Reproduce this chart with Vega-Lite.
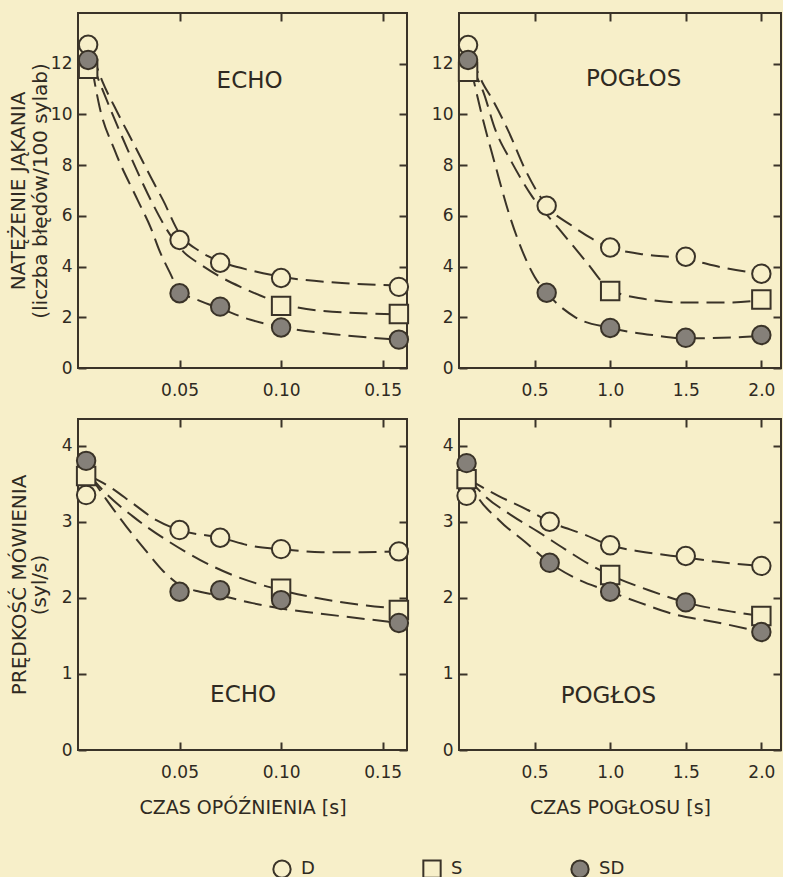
{
  "$schema": "https://vega.github.io/schema/vega-lite/v6.json",
  "background": "#f7efc9",
  "padding": {"left": 7, "top": 11, "right": 0, "bottom": 0},
  "config": {
    "font": "DejaVu Sans",
    "view": {"stroke": "#3a3328", "strokeWidth": 2},
    "axis": {
      "domain": false, "grid": false,
      "tickColor": "#3a3328", "tickWidth": 2, "tickSize": -8,
      "labelFont": "DejaVu Sans", "labelFontSize": 17, "labelColor": "#2f2a22", "labelPadding": 14,
      "titleFont": "DejaVu Sans", "titleFontSize": 20, "titleColor": "#2f2a22", "titleFontWeight": "normal"
    },
    "legend": {
      "orient": "none", "legendX": 194, "legendY": 846, "direction": "horizontal",
      "columnPadding": 104, "labelFontSize": 18, "labelColor": "#2f2a22", "labelFont": "DejaVu Sans",
      "symbolSize": 300, "symbolStrokeWidth": 2, "labelOffset": 9
    }
  },
  "datasets": {
    "pts": [
      {"panel": "TL", "series": "D", "x": 0.005, "y": 12.75},
      {"panel": "TL", "series": "D", "x": 0.05, "y": 5.05},
      {"panel": "TL", "series": "D", "x": 0.07, "y": 4.15},
      {"panel": "TL", "series": "D", "x": 0.10, "y": 3.55},
      {"panel": "TL", "series": "D", "x": 0.158, "y": 3.2},
      {"panel": "TL", "series": "S", "x": 0.005, "y": 11.8},
      {"panel": "TL", "series": "S", "x": 0.10, "y": 2.45},
      {"panel": "TL", "series": "S", "x": 0.158, "y": 2.13},
      {"panel": "TL", "series": "SD", "x": 0.005, "y": 12.15},
      {"panel": "TL", "series": "SD", "x": 0.05, "y": 2.95},
      {"panel": "TL", "series": "SD", "x": 0.07, "y": 2.42},
      {"panel": "TL", "series": "SD", "x": 0.10, "y": 1.6},
      {"panel": "TL", "series": "SD", "x": 0.158, "y": 1.12},
      {"panel": "TR", "series": "D", "x": 0.06, "y": 12.74},
      {"panel": "TR", "series": "D", "x": 0.58, "y": 6.4},
      {"panel": "TR", "series": "D", "x": 1.0, "y": 4.75},
      {"panel": "TR", "series": "D", "x": 1.5, "y": 4.39},
      {"panel": "TR", "series": "D", "x": 2.0, "y": 3.72},
      {"panel": "TR", "series": "S", "x": 0.06, "y": 11.68},
      {"panel": "TR", "series": "S", "x": 1.0, "y": 3.04},
      {"panel": "TR", "series": "S", "x": 2.0, "y": 2.7},
      {"panel": "TR", "series": "SD", "x": 0.06, "y": 12.15},
      {"panel": "TR", "series": "SD", "x": 0.58, "y": 2.97},
      {"panel": "TR", "series": "SD", "x": 1.0, "y": 1.58},
      {"panel": "TR", "series": "SD", "x": 1.5, "y": 1.19},
      {"panel": "TR", "series": "SD", "x": 2.0, "y": 1.3},
      {"panel": "BL", "series": "D", "x": 0.004, "y": 3.35},
      {"panel": "BL", "series": "D", "x": 0.05, "y": 2.89},
      {"panel": "BL", "series": "D", "x": 0.07, "y": 2.79},
      {"panel": "BL", "series": "D", "x": 0.10, "y": 2.64},
      {"panel": "BL", "series": "D", "x": 0.158, "y": 2.61},
      {"panel": "BL", "series": "S", "x": 0.004, "y": 3.6},
      {"panel": "BL", "series": "S", "x": 0.10, "y": 2.12},
      {"panel": "BL", "series": "S", "x": 0.158, "y": 1.84},
      {"panel": "BL", "series": "SD", "x": 0.004, "y": 3.8},
      {"panel": "BL", "series": "SD", "x": 0.05, "y": 2.08},
      {"panel": "BL", "series": "SD", "x": 0.07, "y": 2.1},
      {"panel": "BL", "series": "SD", "x": 0.10, "y": 1.97},
      {"panel": "BL", "series": "SD", "x": 0.158, "y": 1.67},
      {"panel": "BR", "series": "D", "x": 0.05, "y": 3.34},
      {"panel": "BR", "series": "D", "x": 0.6, "y": 3.0},
      {"panel": "BR", "series": "D", "x": 1.0, "y": 2.69},
      {"panel": "BR", "series": "D", "x": 1.5, "y": 2.55},
      {"panel": "BR", "series": "D", "x": 2.0, "y": 2.42},
      {"panel": "BR", "series": "S", "x": 0.05, "y": 3.56},
      {"panel": "BR", "series": "S", "x": 1.0, "y": 2.3},
      {"panel": "BR", "series": "S", "x": 2.0, "y": 1.76},
      {"panel": "BR", "series": "SD", "x": 0.05, "y": 3.77},
      {"panel": "BR", "series": "SD", "x": 0.6, "y": 2.46},
      {"panel": "BR", "series": "SD", "x": 1.0, "y": 2.08},
      {"panel": "BR", "series": "SD", "x": 1.5, "y": 1.94},
      {"panel": "BR", "series": "SD", "x": 2.0, "y": 1.55}
    ],
    "curves": [
      {"panel": "TL", "series": "D", "x": 0.007, "y": 12.4},
      {"panel": "TL", "series": "D", "x": 0.012, "y": 11.3},
      {"panel": "TL", "series": "D", "x": 0.018, "y": 10.3},
      {"panel": "TL", "series": "D", "x": 0.029, "y": 8.6},
      {"panel": "TL", "series": "D", "x": 0.036, "y": 7.5},
      {"panel": "TL", "series": "D", "x": 0.042, "y": 6.6},
      {"panel": "TL", "series": "D", "x": 0.05, "y": 5.3},
      {"panel": "TL", "series": "D", "x": 0.06, "y": 4.6},
      {"panel": "TL", "series": "D", "x": 0.07, "y": 4.2},
      {"panel": "TL", "series": "D", "x": 0.085, "y": 3.85},
      {"panel": "TL", "series": "D", "x": 0.10, "y": 3.6},
      {"panel": "TL", "series": "D", "x": 0.13, "y": 3.35},
      {"panel": "TL", "series": "D", "x": 0.158, "y": 3.25},
      {"panel": "TL", "series": "S", "x": 0.007, "y": 12.0},
      {"panel": "TL", "series": "S", "x": 0.0155, "y": 10.3},
      {"panel": "TL", "series": "S", "x": 0.0245, "y": 8.6},
      {"panel": "TL", "series": "S", "x": 0.036, "y": 6.6},
      {"panel": "TL", "series": "S", "x": 0.045, "y": 5.3},
      {"panel": "TL", "series": "S", "x": 0.053, "y": 4.5},
      {"panel": "TL", "series": "S", "x": 0.06, "y": 4.1},
      {"panel": "TL", "series": "S", "x": 0.07, "y": 3.6},
      {"panel": "TL", "series": "S", "x": 0.08, "y": 3.2},
      {"panel": "TL", "series": "S", "x": 0.09, "y": 2.85},
      {"panel": "TL", "series": "S", "x": 0.10, "y": 2.55},
      {"panel": "TL", "series": "S", "x": 0.12, "y": 2.25},
      {"panel": "TL", "series": "S", "x": 0.158, "y": 2.12},
      {"panel": "TL", "series": "SD", "x": 0.007, "y": 11.8},
      {"panel": "TL", "series": "SD", "x": 0.0106, "y": 10.3},
      {"panel": "TL", "series": "SD", "x": 0.018, "y": 8.6},
      {"panel": "TL", "series": "SD", "x": 0.0295, "y": 6.6},
      {"panel": "TL", "series": "SD", "x": 0.036, "y": 5.5},
      {"panel": "TL", "series": "SD", "x": 0.04, "y": 4.65},
      {"panel": "TL", "series": "SD", "x": 0.045, "y": 3.8},
      {"panel": "TL", "series": "SD", "x": 0.05, "y": 3.05},
      {"panel": "TL", "series": "SD", "x": 0.06, "y": 2.65},
      {"panel": "TL", "series": "SD", "x": 0.07, "y": 2.35},
      {"panel": "TL", "series": "SD", "x": 0.085, "y": 1.9},
      {"panel": "TL", "series": "SD", "x": 0.10, "y": 1.62},
      {"panel": "TL", "series": "SD", "x": 0.13, "y": 1.3},
      {"panel": "TL", "series": "SD", "x": 0.158, "y": 1.12},
      {"panel": "TR", "series": "D", "x": 0.08, "y": 12.3},
      {"panel": "TR", "series": "D", "x": 0.16, "y": 11.2},
      {"panel": "TR", "series": "D", "x": 0.22, "y": 10.6},
      {"panel": "TR", "series": "D", "x": 0.33, "y": 9.3},
      {"panel": "TR", "series": "D", "x": 0.44, "y": 7.8},
      {"panel": "TR", "series": "D", "x": 0.58, "y": 6.4},
      {"panel": "TR", "series": "D", "x": 0.75, "y": 5.6},
      {"panel": "TR", "series": "D", "x": 0.88, "y": 5.1},
      {"panel": "TR", "series": "D", "x": 1.0, "y": 4.75},
      {"panel": "TR", "series": "D", "x": 1.2, "y": 4.5},
      {"panel": "TR", "series": "D", "x": 1.5, "y": 4.3},
      {"panel": "TR", "series": "D", "x": 1.75, "y": 3.95},
      {"panel": "TR", "series": "D", "x": 2.0, "y": 3.72},
      {"panel": "TR", "series": "S", "x": 0.08, "y": 11.9},
      {"panel": "TR", "series": "S", "x": 0.16, "y": 10.9},
      {"panel": "TR", "series": "S", "x": 0.24, "y": 9.4},
      {"panel": "TR", "series": "S", "x": 0.35, "y": 8.1},
      {"panel": "TR", "series": "S", "x": 0.48, "y": 6.8},
      {"panel": "TR", "series": "S", "x": 0.66, "y": 5.5},
      {"panel": "TR", "series": "S", "x": 0.84, "y": 4.2},
      {"panel": "TR", "series": "S", "x": 1.0, "y": 3.1},
      {"panel": "TR", "series": "S", "x": 1.2, "y": 2.75},
      {"panel": "TR", "series": "S", "x": 1.5, "y": 2.58},
      {"panel": "TR", "series": "S", "x": 1.8, "y": 2.58},
      {"panel": "TR", "series": "S", "x": 2.0, "y": 2.68},
      {"panel": "TR", "series": "SD", "x": 0.08, "y": 11.8},
      {"panel": "TR", "series": "SD", "x": 0.15, "y": 10.0},
      {"panel": "TR", "series": "SD", "x": 0.24, "y": 8.0},
      {"panel": "TR", "series": "SD", "x": 0.33, "y": 6.1},
      {"panel": "TR", "series": "SD", "x": 0.42, "y": 4.6},
      {"panel": "TR", "series": "SD", "x": 0.5, "y": 3.6},
      {"panel": "TR", "series": "SD", "x": 0.58, "y": 2.97},
      {"panel": "TR", "series": "SD", "x": 0.77, "y": 2.0},
      {"panel": "TR", "series": "SD", "x": 1.0, "y": 1.58},
      {"panel": "TR", "series": "SD", "x": 1.28, "y": 1.3},
      {"panel": "TR", "series": "SD", "x": 1.5, "y": 1.17},
      {"panel": "TR", "series": "SD", "x": 1.8, "y": 1.2},
      {"panel": "TR", "series": "SD", "x": 2.0, "y": 1.28},
      {"panel": "BL", "series": "D", "x": 0.006, "y": 3.6},
      {"panel": "BL", "series": "D", "x": 0.0155, "y": 3.46},
      {"panel": "BL", "series": "D", "x": 0.027, "y": 3.24},
      {"panel": "BL", "series": "D", "x": 0.0386, "y": 3.02},
      {"panel": "BL", "series": "D", "x": 0.05, "y": 2.89},
      {"panel": "BL", "series": "D", "x": 0.07, "y": 2.79},
      {"panel": "BL", "series": "D", "x": 0.086, "y": 2.68},
      {"panel": "BL", "series": "D", "x": 0.10, "y": 2.64},
      {"panel": "BL", "series": "D", "x": 0.12, "y": 2.6},
      {"panel": "BL", "series": "D", "x": 0.14, "y": 2.6},
      {"panel": "BL", "series": "D", "x": 0.158, "y": 2.61},
      {"panel": "BL", "series": "S", "x": 0.006, "y": 3.6},
      {"panel": "BL", "series": "S", "x": 0.012, "y": 3.42},
      {"panel": "BL", "series": "S", "x": 0.027, "y": 3.07},
      {"panel": "BL", "series": "S", "x": 0.0435, "y": 2.76},
      {"panel": "BL", "series": "S", "x": 0.06, "y": 2.5},
      {"panel": "BL", "series": "S", "x": 0.076, "y": 2.3},
      {"panel": "BL", "series": "S", "x": 0.10, "y": 2.1},
      {"panel": "BL", "series": "S", "x": 0.117, "y": 2.0},
      {"panel": "BL", "series": "S", "x": 0.142, "y": 1.9},
      {"panel": "BL", "series": "S", "x": 0.158, "y": 1.86},
      {"panel": "BL", "series": "SD", "x": 0.006, "y": 3.6},
      {"panel": "BL", "series": "SD", "x": 0.014, "y": 3.29},
      {"panel": "BL", "series": "SD", "x": 0.024, "y": 2.93},
      {"panel": "BL", "series": "SD", "x": 0.034, "y": 2.6},
      {"panel": "BL", "series": "SD", "x": 0.042, "y": 2.35},
      {"panel": "BL", "series": "SD", "x": 0.05, "y": 2.17},
      {"panel": "BL", "series": "SD", "x": 0.06, "y": 2.08},
      {"panel": "BL", "series": "SD", "x": 0.07, "y": 2.03},
      {"panel": "BL", "series": "SD", "x": 0.086, "y": 1.93},
      {"panel": "BL", "series": "SD", "x": 0.10, "y": 1.86},
      {"panel": "BL", "series": "SD", "x": 0.117, "y": 1.8},
      {"panel": "BL", "series": "SD", "x": 0.142, "y": 1.72},
      {"panel": "BL", "series": "SD", "x": 0.158, "y": 1.67},
      {"panel": "BR", "series": "D", "x": 0.06, "y": 3.56},
      {"panel": "BR", "series": "D", "x": 0.26, "y": 3.34},
      {"panel": "BR", "series": "D", "x": 0.44, "y": 3.17},
      {"panel": "BR", "series": "D", "x": 0.6, "y": 3.0},
      {"panel": "BR", "series": "D", "x": 0.83, "y": 2.83},
      {"panel": "BR", "series": "D", "x": 1.0, "y": 2.69},
      {"panel": "BR", "series": "D", "x": 1.23, "y": 2.6},
      {"panel": "BR", "series": "D", "x": 1.5, "y": 2.53},
      {"panel": "BR", "series": "D", "x": 1.72, "y": 2.47},
      {"panel": "BR", "series": "D", "x": 2.0, "y": 2.42},
      {"panel": "BR", "series": "S", "x": 0.06, "y": 3.57},
      {"panel": "BR", "series": "S", "x": 0.17, "y": 3.34},
      {"panel": "BR", "series": "S", "x": 0.35, "y": 3.08},
      {"panel": "BR", "series": "S", "x": 0.53, "y": 2.86},
      {"panel": "BR", "series": "S", "x": 0.70, "y": 2.64},
      {"panel": "BR", "series": "S", "x": 0.88, "y": 2.42},
      {"panel": "BR", "series": "S", "x": 1.0, "y": 2.3},
      {"panel": "BR", "series": "S", "x": 1.27, "y": 2.09},
      {"panel": "BR", "series": "S", "x": 1.5, "y": 1.94},
      {"panel": "BR", "series": "S", "x": 1.83, "y": 1.81},
      {"panel": "BR", "series": "S", "x": 2.0, "y": 1.76},
      {"panel": "BR", "series": "SD", "x": 0.06, "y": 3.6},
      {"panel": "BR", "series": "SD", "x": 0.107, "y": 3.39},
      {"panel": "BR", "series": "SD", "x": 0.26, "y": 3.03},
      {"panel": "BR", "series": "SD", "x": 0.44, "y": 2.73},
      {"panel": "BR", "series": "SD", "x": 0.6, "y": 2.46},
      {"panel": "BR", "series": "SD", "x": 0.79, "y": 2.24},
      {"panel": "BR", "series": "SD", "x": 1.0, "y": 2.08},
      {"panel": "BR", "series": "SD", "x": 1.19, "y": 1.94},
      {"panel": "BR", "series": "SD", "x": 1.43, "y": 1.78},
      {"panel": "BR", "series": "SD", "x": 1.7, "y": 1.68},
      {"panel": "BR", "series": "SD", "x": 2.0, "y": 1.55}
    ],
    "labels": [
      {"panel": "TL", "text": "ECHO", "x": 0.0845, "y": 11.3},
      {"panel": "TR", "text": "POGŁOS", "x": 1.155, "y": 11.4},
      {"panel": "BL", "text": "ECHO", "x": 0.0813, "y": 0.72},
      {"panel": "BR", "text": "POGŁOS", "x": 0.988, "y": 0.71}
    ]
  },
  "resolve": {"scale": {"shape": "shared", "fill": "shared"}},
  "columns": 2,
  "spacing": {"row": 18, "column": 16},
  "concat": [
    {
      "width": 329, "height": 355,
      "resolve": {"axis": {"x": "independent", "y": "independent"}},
      "layer": [
        {
          "data": {"name": "curves"},
          "transform": [{"filter": "datum.panel === 'TL'"}],
          "mark": {"type": "line", "strokeDash": [18, 8], "strokeWidth": 2, "color": "#3a3328", "interpolate": "monotone"},
          "encoding": {
            "x": {"field": "x", "type": "quantitative", "scale": {"domain": [0, 0.162], "nice": false, "zero": false}, "axis": {"orient": "top", "values": [0.05, 0.1, 0.15], "labels": false, "title": null}},
            "y": {"field": "y", "type": "quantitative", "scale": {"domain": [0, 14], "nice": false}, "axis": {"orient": "right", "values": [0, 2, 4, 6, 8, 10, 12], "labels": false, "title": null}},
            "detail": {"field": "series"}
          }
        },
        {
          "data": {"name": "pts"},
          "transform": [{"filter": "datum.panel === 'TL'"}],
          "mark": {"type": "point", "filled": true, "size": 340, "strokeWidth": 2, "opacity": 1},
          "encoding": {
            "x": {"field": "x", "type": "quantitative", "scale": {"domain": [0, 0.162], "nice": false, "zero": false}, "axis": {"orient": "bottom", "values": [0.05, 0.1, 0.15], "format": ".2f", "title": null, "labelPadding": 22}},
            "y": {"field": "y", "type": "quantitative", "scale": {"domain": [0, 14], "nice": false}, "axis": {"orient": "left", "values": [0, 2, 4, 6, 8, 10, 12], "title": ["NATĘŻENIE JĄKANIA", "(liczba błędów/100 sylab)"], "titlePadding": 0, "titleLineHeight": 22}},
            "shape": {"field": "series", "type": "nominal", "scale": {"domain": ["D", "S", "SD"], "range": ["circle", "square", "circle"]}, "legend": {"title": null, "encode": {"symbols": {"stroke": {"value": "#3a3328"}, "strokeWidth": {"value": 2}}}}},
            "fill": {"field": "series", "type": "nominal", "scale": {"domain": ["D", "S", "SD"], "range": ["#f7efc9", "#f7efc9", "#858079"]}, "legend": {"title": null, "encode": {"symbols": {"stroke": {"value": "#3a3328"}, "strokeWidth": {"value": 2}}}}},
            "stroke": {"value": "#3a3328"}
          }
        },
        {
          "data": {"name": "labels"},
          "transform": [{"filter": "datum.panel === 'TL'"}],
          "mark": {"type": "text", "fontSize": 23, "color": "#2f2a22", "align": "center", "baseline": "middle"},
          "encoding": {
            "x": {"field": "x", "type": "quantitative", "axis": null},
            "y": {"field": "y", "type": "quantitative", "axis": null},
            "text": {"field": "text"}
          }
        }
      ]
    },
    {
      "width": 322, "height": 355,
      "resolve": {"axis": {"x": "independent", "y": "independent"}},
      "layer": [
        {
          "data": {"name": "curves"},
          "transform": [{"filter": "datum.panel === 'TR'"}],
          "mark": {"type": "line", "strokeDash": [18, 8], "strokeWidth": 2, "color": "#3a3328", "interpolate": "monotone"},
          "encoding": {
            "x": {"field": "x", "type": "quantitative", "scale": {"domain": [0, 2.13], "nice": false, "zero": false}, "axis": {"orient": "top", "values": [0.5, 1, 1.5, 2], "labels": false, "title": null}},
            "y": {"field": "y", "type": "quantitative", "scale": {"domain": [0, 14], "nice": false}, "axis": {"orient": "right", "values": [0, 2, 4, 6, 8, 10, 12], "labels": false, "title": null}},
            "detail": {"field": "series"}
          }
        },
        {
          "data": {"name": "pts"},
          "transform": [{"filter": "datum.panel === 'TR'"}],
          "mark": {"type": "point", "filled": true, "size": 340, "strokeWidth": 2, "opacity": 1},
          "encoding": {
            "x": {"field": "x", "type": "quantitative", "scale": {"domain": [0, 2.13], "nice": false, "zero": false}, "axis": {"orient": "bottom", "values": [0.5, 1, 1.5, 2], "format": ".1f", "title": null, "labelPadding": 22}},
            "y": {"field": "y", "type": "quantitative", "scale": {"domain": [0, 14], "nice": false}, "axis": {"orient": "left", "values": [0, 2, 4, 6, 8, 10, 12], "title": null}},
            "shape": {"field": "series", "type": "nominal", "scale": {"domain": ["D", "S", "SD"], "range": ["circle", "square", "circle"]}, "legend": {"title": null, "encode": {"symbols": {"stroke": {"value": "#3a3328"}, "strokeWidth": {"value": 2}}}}},
            "fill": {"field": "series", "type": "nominal", "scale": {"domain": ["D", "S", "SD"], "range": ["#f7efc9", "#f7efc9", "#858079"]}, "legend": {"title": null, "encode": {"symbols": {"stroke": {"value": "#3a3328"}, "strokeWidth": {"value": 2}}}}},
            "stroke": {"value": "#3a3328"}
          }
        },
        {
          "data": {"name": "labels"},
          "transform": [{"filter": "datum.panel === 'TR'"}],
          "mark": {"type": "text", "fontSize": 23, "color": "#2f2a22", "align": "center", "baseline": "middle"},
          "encoding": {
            "x": {"field": "x", "type": "quantitative", "axis": null},
            "y": {"field": "y", "type": "quantitative", "axis": null},
            "text": {"field": "text"}
          }
        }
      ]
    },
    {
      "width": 329, "height": 331,
      "resolve": {"axis": {"x": "independent", "y": "independent"}},
      "layer": [
        {
          "data": {"name": "curves"},
          "transform": [{"filter": "datum.panel === 'BL'"}],
          "mark": {"type": "line", "strokeDash": [18, 8], "strokeWidth": 2, "color": "#3a3328", "interpolate": "monotone"},
          "encoding": {
            "x": {"field": "x", "type": "quantitative", "scale": {"domain": [0, 0.162], "nice": false, "zero": false}, "axis": {"orient": "top", "values": [0.05, 0.1, 0.15], "labels": false, "title": null}},
            "y": {"field": "y", "type": "quantitative", "scale": {"domain": [0, 4.35], "nice": false}, "axis": {"orient": "right", "values": [0, 1, 2, 3, 4], "labels": false, "title": null}},
            "detail": {"field": "series"}
          }
        },
        {
          "data": {"name": "pts"},
          "transform": [{"filter": "datum.panel === 'BL'"}],
          "mark": {"type": "point", "filled": true, "size": 340, "strokeWidth": 2, "opacity": 1},
          "encoding": {
            "x": {"field": "x", "type": "quantitative", "scale": {"domain": [0, 0.162], "nice": false, "zero": false}, "axis": {"orient": "bottom", "values": [0.05, 0.1, 0.15], "format": ".2f", "title": "CZAS OPÓŹNIENIA [s]", "titlePadding": 18, "titleFontSize": 19, "labelPadding": 22}},
            "y": {"field": "y", "type": "quantitative", "scale": {"domain": [0, 4.35], "nice": false}, "axis": {"orient": "left", "values": [0, 1, 2, 3, 4], "title": ["PRĘDKOŚĆ MÓWIENIA", "(syl/s)"], "titlePadding": 12, "titleLineHeight": 20}},
            "shape": {"field": "series", "type": "nominal", "scale": {"domain": ["D", "S", "SD"], "range": ["circle", "square", "circle"]}, "legend": {"title": null, "encode": {"symbols": {"stroke": {"value": "#3a3328"}, "strokeWidth": {"value": 2}}}}},
            "fill": {"field": "series", "type": "nominal", "scale": {"domain": ["D", "S", "SD"], "range": ["#f7efc9", "#f7efc9", "#858079"]}, "legend": {"title": null, "encode": {"symbols": {"stroke": {"value": "#3a3328"}, "strokeWidth": {"value": 2}}}}},
            "stroke": {"value": "#3a3328"}
          }
        },
        {
          "data": {"name": "labels"},
          "transform": [{"filter": "datum.panel === 'BL'"}],
          "mark": {"type": "text", "fontSize": 23, "color": "#2f2a22", "align": "center", "baseline": "middle"},
          "encoding": {
            "x": {"field": "x", "type": "quantitative", "axis": null},
            "y": {"field": "y", "type": "quantitative", "axis": null},
            "text": {"field": "text"}
          }
        }
      ]
    },
    {
      "width": 322, "height": 331,
      "resolve": {"axis": {"x": "independent", "y": "independent"}},
      "layer": [
        {
          "data": {"name": "curves"},
          "transform": [{"filter": "datum.panel === 'BR'"}],
          "mark": {"type": "line", "strokeDash": [18, 8], "strokeWidth": 2, "color": "#3a3328", "interpolate": "monotone"},
          "encoding": {
            "x": {"field": "x", "type": "quantitative", "scale": {"domain": [0, 2.13], "nice": false, "zero": false}, "axis": {"orient": "top", "values": [0.5, 1, 1.5, 2], "labels": false, "title": null}},
            "y": {"field": "y", "type": "quantitative", "scale": {"domain": [0, 4.35], "nice": false}, "axis": {"orient": "right", "values": [0, 1, 2, 3, 4], "labels": false, "title": null}},
            "detail": {"field": "series"}
          }
        },
        {
          "data": {"name": "pts"},
          "transform": [{"filter": "datum.panel === 'BR'"}],
          "mark": {"type": "point", "filled": true, "size": 340, "strokeWidth": 2, "opacity": 1},
          "encoding": {
            "x": {"field": "x", "type": "quantitative", "scale": {"domain": [0, 2.13], "nice": false, "zero": false}, "axis": {"orient": "bottom", "values": [0.5, 1, 1.5, 2], "format": ".1f", "title": "CZAS POGŁOSU [s]", "titlePadding": 18, "titleFontSize": 19, "labelPadding": 22}},
            "y": {"field": "y", "type": "quantitative", "scale": {"domain": [0, 4.35], "nice": false}, "axis": {"orient": "left", "values": [0, 1, 2, 3, 4], "title": null}},
            "shape": {"field": "series", "type": "nominal", "scale": {"domain": ["D", "S", "SD"], "range": ["circle", "square", "circle"]}, "legend": {"title": null, "encode": {"symbols": {"stroke": {"value": "#3a3328"}, "strokeWidth": {"value": 2}}}}},
            "fill": {"field": "series", "type": "nominal", "scale": {"domain": ["D", "S", "SD"], "range": ["#f7efc9", "#f7efc9", "#858079"]}, "legend": {"title": null, "encode": {"symbols": {"stroke": {"value": "#3a3328"}, "strokeWidth": {"value": 2}}}}},
            "stroke": {"value": "#3a3328"}
          }
        },
        {
          "data": {"name": "labels"},
          "transform": [{"filter": "datum.panel === 'BR'"}],
          "mark": {"type": "text", "fontSize": 23, "color": "#2f2a22", "align": "center", "baseline": "middle"},
          "encoding": {
            "x": {"field": "x", "type": "quantitative", "axis": null},
            "y": {"field": "y", "type": "quantitative", "axis": null},
            "text": {"field": "text"}
          }
        }
      ]
    }
  ]
}
